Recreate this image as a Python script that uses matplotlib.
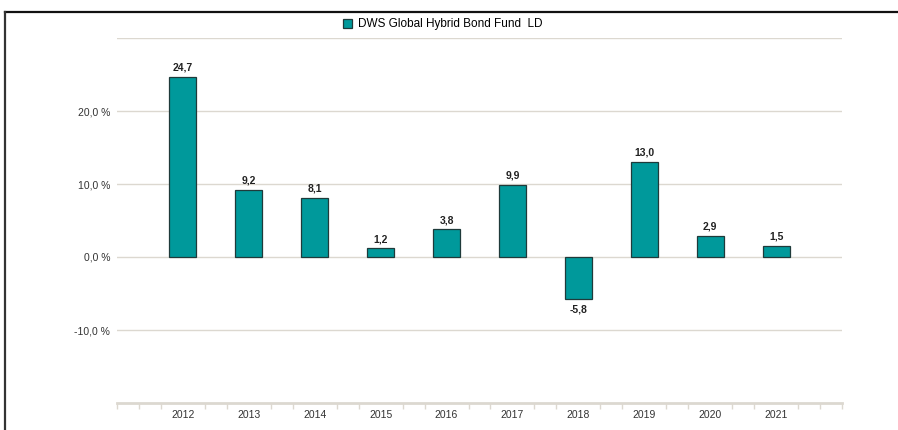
import numpy as np
import matplotlib.pyplot as plt
from matplotlib.lines import Line2D
from matplotlib.ticker import FixedLocator, FuncFormatter

plt.rcParams['font.family'] = ['Liberation Sans', 'DejaVu Sans']

years = ['2012', '2013', '2014', '2015', '2016', '2017', '2018', '2019', '2020', '2021']
returns = [24.7, 9.2, 8.1, 1.2, 3.8, 9.9, -5.8, 13.0, 2.9, 1.5]
series_name = 'DWS Global Hybrid Bond Fund  LD'

bar_color = '#00999b'
edge_color = '#1f3a3a'
grid_color = '#dcd8d0'
text_color = '#333333'

fig = plt.figure(figsize=(8.98, 4.30), dpi=100)
ax = fig.add_axes([117/898, 27/430, (842-117)/898, (403-38)/430])

x = np.arange(1, len(years) + 1)
bars = ax.bar(x, returns, width=0.41, color=bar_color, edgecolor=edge_color,
              linewidth=0.9, zorder=3, label=series_name)

for xi, v in zip(x, returns):
    lbl = f'{v:.1f}'.replace('.', ',')
    if v >= 0:
        ax.annotate(lbl, (xi, v), xytext=(0, 3), textcoords='offset points',
                    ha='center', va='bottom', fontsize=7.5, fontweight='bold', color='#222222')
    else:
        ax.annotate(lbl, (xi, v), xytext=(0, -4), textcoords='offset points',
                    ha='center', va='top', fontsize=7.5, fontweight='bold', color='#222222')

ax.set_xlim(0, 11)
ax.set_ylim(-20, 30)
ax.set_yticks([-10, 0, 10, 20])
ax.yaxis.set_major_formatter(FuncFormatter(lambda v, p: f'{v:.1f} %'.replace('.', ',')))
ax.set_xticks(x)
ax.set_xticklabels(years)
minor = [k / 3 for k in range(0, 34) if k % 3 != 0 or k in (0, 33)]
ax.xaxis.set_minor_locator(FixedLocator(minor))

for y in [-10, 0, 10, 20, 30]:
    ax.axhline(y, color=grid_color, linewidth=1.0, zorder=1)

for s in ['top', 'right', 'left']:
    ax.spines[s].set_visible(False)
ax.spines['bottom'].set_color(grid_color)
ax.spines['bottom'].set_linewidth(2)

ax.tick_params(axis='y', length=0, pad=5, labelsize=7.5, labelcolor=text_color)
ax.tick_params(axis='x', which='major', length=0, pad=5, labelsize=7.5, labelcolor=text_color)
ax.tick_params(axis='x', which='minor', length=4, width=1, color=grid_color)

ax.legend(loc='lower center', bbox_to_anchor=(0.449, 1.008), frameon=False,
          fontsize=8.5, handlelength=0.8, handleheight=0.8, handletextpad=0.5,
          borderaxespad=0)

# frame lines on top and left of the picture
fig.add_artist(Line2D([5/898, 1], [1 - 12/430, 1 - 12/430], color='#111111', linewidth=1.6,
                      transform=fig.transFigure))
fig.add_artist(Line2D([5/898, 5/898], [0, 1 - 12/430], color='#333333', linewidth=1.6,
                      transform=fig.transFigure))

fig.savefig('out.png', dpi=100, facecolor='white')
